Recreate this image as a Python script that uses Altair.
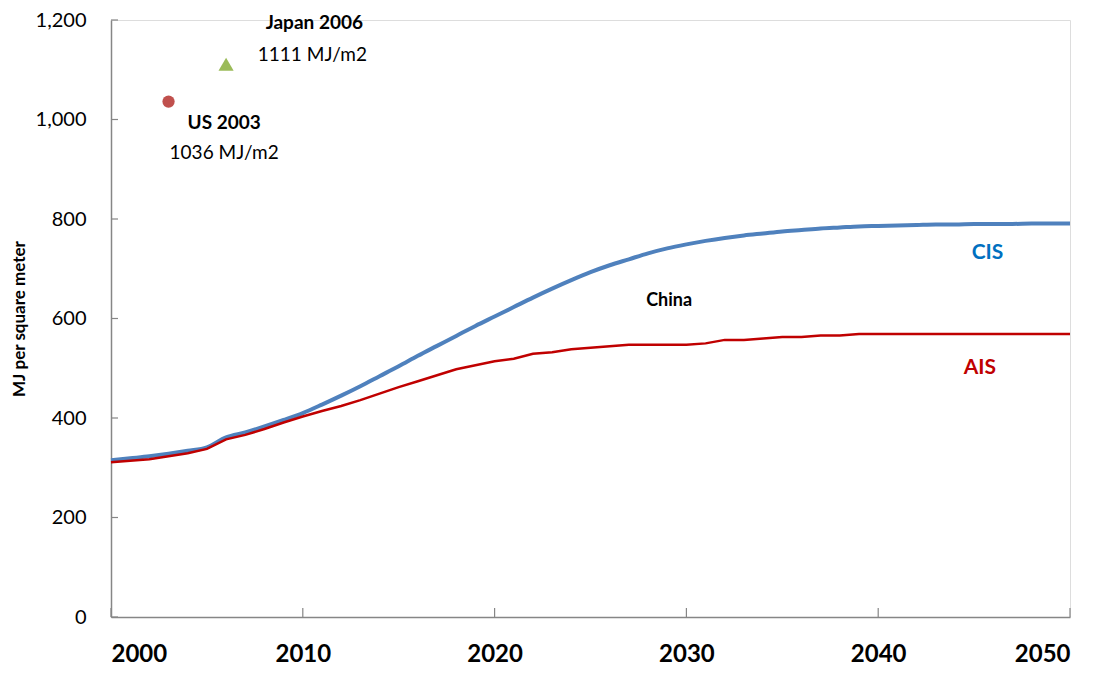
import altair as alt
import pandas as pd

years = list(range(2000, 2051))
cis = [315, 319, 323, 328, 334, 341, 361, 371, 383, 396,
       410, 427, 445, 464, 484, 504, 525, 545, 565, 585,
       604, 623, 642, 660, 677, 693, 707, 719, 731, 741,
       749, 756, 762, 767, 771, 775, 778, 781, 783, 785,
       786, 787, 788, 789, 789, 790, 790, 790, 791, 791, 791]
ais = [311, 314, 317, 323, 329, 338, 357, 366, 378, 391,
       403, 414, 424, 436, 449, 462, 474, 486, 498, 506,
       514, 519, 529, 532, 538, 541, 544, 547, 547, 547,
       547, 550, 557, 557, 560, 563, 563, 566, 566, 569,
       569, 569, 569, 569, 569, 569, 569, 569, 569, 569, 569]

pt_names = ["US 2003", "Japan 2006"]
pt_years = [2003, 2006]
pt_values = [1036, 1111]

ann_text = ["Japan 2006", "1111 MJ/m2", "US 2003", "1036 MJ/m2", "China", "CIS", "AIS"]
ann_x = [2010.6, 2010.5, 2005.9, 2005.9, 2029.1, 2045.7, 2045.3]
ann_y = [1194, 1130, 993, 933, 636, 732, 500]
ann_bold = ["bold", "normal", "bold", "normal", "bold", "bold", "bold"]
ann_color = ["#000000", "#000000", "#000000", "#000000", "#000000", "#0070C0", "#C00000"]
ann_size = [19, 19, 19, 19, 18, 21, 21]

xticks = [2000, 2010, 2020, 2030, 2040, 2050]
yticks = [0, 200, 400, 600, 800, 1000, 1200]

FONT = "Lato"
W, H = 959, 597

df_lines = pd.DataFrame({"year": years, "CIS": cis, "AIS": ais})
df_pts = pd.DataFrame({"name": pt_names, "year": pt_years, "value": pt_values})
df_ann = pd.DataFrame({"text": ann_text, "x": ann_x, "y": ann_y})

xs = alt.Scale(domain=[2000, 2050], nice=False, zero=False)
ys = alt.Scale(domain=[0, 1200], nice=False)

xaxis = alt.Axis(values=xticks, format="d", ticks=False, grid=False,
                 labelFont=FONT, labelFontSize=24, labelFontWeight="bold",
                 labelColor="#000000", labelPadding=25, domainColor="#868686",
                 domainWidth=1.5, title=None)
yaxis = alt.Axis(values=yticks, format=",.0f", ticks=False, grid=False,
                 labelFont=FONT, labelFontSize=20, labelColor="#000000",
                 labelPadding=25, domainColor="#868686", domainWidth=1.5,
                 title="MJ per square meter", titleFont=FONT, titleFontSize=17,
                 titleFontWeight="bold", titleColor="#000000", titlePadding=7)

base = alt.Chart(df_lines)

cis_line = base.mark_line(color="#4F81BD", strokeWidth=4, interpolate="monotone").encode(
    x=alt.X("year:Q", scale=xs, axis=xaxis),
    y=alt.Y("CIS:Q", scale=ys, axis=yaxis),
)
ais_line = base.mark_line(color="#C00000", strokeWidth=2.5).encode(
    x=alt.X("year:Q", scale=xs),
    y=alt.Y("AIS:Q", scale=ys),
)

us_pt = alt.Chart(df_pts[df_pts["name"] == "US 2003"]).mark_point(
    shape="circle", filled=True, size=150, color="#C0504D", opacity=1).encode(
    x=alt.X("year:Q", scale=xs), y=alt.Y("value:Q", scale=ys))
jp_pt = alt.Chart(df_pts[df_pts["name"] == "Japan 2006"]).mark_point(
    shape="triangle-up", filled=True, size=230, color="#9BBB59", opacity=1).encode(
    x=alt.X("year:Q", scale=xs), y=alt.Y("value:Q", scale=ys))

layers = [cis_line, ais_line, us_pt, jp_pt]
for i in range(len(ann_text)):
    layers.append(
        alt.Chart(df_ann.iloc[[i]]).mark_text(
            font=FONT, fontSize=ann_size[i], fontWeight=ann_bold[i],
            color=ann_color[i], align="center", baseline="middle").encode(
            x=alt.X("x:Q", scale=xs), y=alt.Y("y:Q", scale=ys), text="text:N"))

df_xt = pd.DataFrame({"year": xticks})
df_yt = pd.DataFrame({"v": yticks})
xtick_rules = alt.Chart(df_xt).mark_rule(color="#868686", strokeWidth=1.2).encode(
    x=alt.X("year:Q", scale=xs), y=alt.value(H), y2=alt.value(H - 9))
ytick_rules = alt.Chart(df_yt).mark_rule(color="#868686", strokeWidth=1.2).encode(
    y=alt.Y("v:Q", scale=ys), x=alt.value(0), x2=alt.value(7))
layers += [xtick_rules, ytick_rules]

chart = alt.layer(*layers).properties(
    width=W, height=H,
    autosize=alt.AutoSizeParams(type="none"),
    padding={"left": 103, "top": 12, "right": 30, "bottom": 52},
).configure_view(stroke=None).configure(background="#ffffff")

chart.save("out.html", embed_options={"renderer": "svg", "actions": False})
